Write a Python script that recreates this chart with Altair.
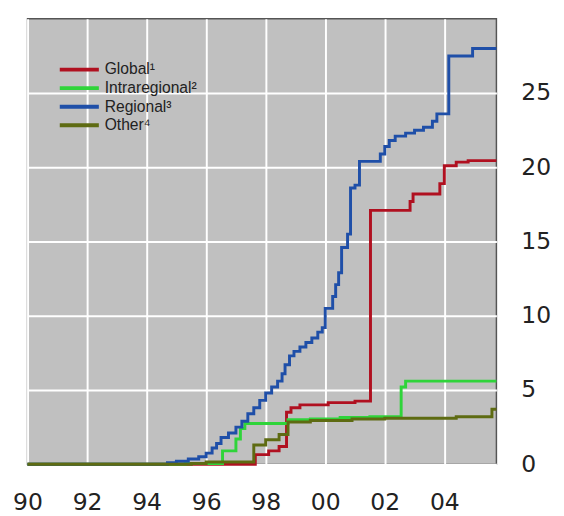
import altair as alt
import pandas as pd

series_names = ["Global¹", "Intraregional²", "Regional³", "Other⁴"]
series_colors = ["#b01020", "#2fd43a", "#1f4fa8", "#5e6b12"]

global_x = [1990.0, 1997.65, 1998.1, 1998.45, 1998.7, 1998.85, 1999.15, 2000.1, 2001.0,
            2001.52, 2002.85, 2002.95, 2003.85, 2004.0, 2004.4, 2004.8, 2005.75]
global_y = [0.0, 0.65, 0.9, 1.2, 3.5, 3.8, 4.0, 4.15, 4.25,
            17.1, 17.7, 18.2, 18.9, 20.1, 20.35, 20.45, 20.45]

intra_x = [1990.0, 1995.3, 1996.55, 1997.0, 1997.15, 1997.3, 1998.75, 1999.5, 2000.5,
           2001.5, 2002.55, 2002.7, 2005.75]
intra_y = [0.0, 0.05, 0.9, 1.7, 2.4, 2.75, 3.0, 3.05, 3.15,
           3.2, 5.2, 5.6, 5.6]

regional_x = [1990.0, 1994.7, 1995.0, 1995.4, 1995.75, 1996.0, 1996.2, 1996.35, 1996.5,
              1996.75, 1997.0, 1997.2, 1997.4, 1997.6, 1997.8, 1998.0, 1998.2, 1998.4,
              1998.55, 1998.65, 1998.8, 1998.95, 1999.15, 1999.35, 1999.55, 1999.75,
              1999.9, 2000.0, 2000.25, 2000.35, 2000.45, 2000.55, 2000.75, 2000.85,
              2001.0, 2001.15, 2001.85, 2002.0, 2002.15, 2002.35, 2002.7, 2003.0,
              2003.3, 2003.6, 2003.75, 2004.15, 2004.95, 2005.75]
regional_y = [0.0, 0.1, 0.2, 0.35, 0.5, 0.75, 1.1, 1.4, 1.8,
              2.1, 2.5, 2.9, 3.4, 3.8, 4.3, 4.8, 5.2, 5.6,
              6.1, 6.7, 7.3, 7.6, 7.9, 8.2, 8.5, 8.9,
              9.2, 10.5, 11.3, 12.1, 12.9, 14.6, 15.5, 18.6,
              18.8, 20.4, 20.9, 21.4, 21.8, 22.1, 22.3, 22.5,
              22.7, 23.1, 23.6, 27.5, 28.0, 28.0]

other_x = [1990.0, 1995.5, 1996.0, 1997.6, 1998.0, 1998.45, 1998.75, 1999.5, 2000.9,
           2002.0, 2004.4, 2005.6, 2005.75]
other_y = [0.0, 0.05, 0.15, 1.3, 1.65, 2.0, 2.85, 2.95, 3.05,
           3.1, 3.2, 3.7, 3.7]

x_ticks = [1990, 1992, 1994, 1996, 1998, 2000, 2002, 2004]
y_ticks = [0, 5, 10, 15, 20, 25]

frames = []
for i, (name, xs, ys) in enumerate(zip(series_names,
                                       [global_x, intra_x, regional_x, other_x],
                                       [global_y, intra_y, regional_y, other_y])):
    frames.append(pd.DataFrame({"year": xs, "value": ys, "series": name, "order": i}))
df = pd.concat(frames, ignore_index=True)

chart = alt.Chart(df).mark_line(interpolate="step-after", strokeWidth=3).encode(
    x=alt.X("year:Q",
            scale=alt.Scale(domain=[1990, 2005.75], nice=False, zero=False),
            axis=alt.Axis(values=x_ticks, title=None, ticks=False, domain=False,
                          labelExpr="format(datum.value % 100, '02d')",
                          labelFont="DejaVu Sans", labelFontSize=24, labelColor="#222",
                          labelPadding=27, gridColor="white", gridWidth=2, gridOpacity=1,
                          labelFlush=False)),
    y=alt.Y("value:Q",
            scale=alt.Scale(domain=[0, 30], nice=False),
            axis=alt.Axis(values=y_ticks, orient="right", title=None, ticks=False,
                          domain=False, labelFont="DejaVu Sans", labelFontSize=24,
                          labelColor="#222", labelPadding=25, gridColor="white",
                          gridWidth=2, gridOpacity=1)),
    color=alt.Color("series:N",
                    scale=alt.Scale(domain=series_names, range=series_colors),
                    legend=alt.Legend(orient="none", legendX=43, legendY=42, title=None,
                                      padding=0,
                                      symbolType="M-2.5,0H2.5", symbolSize=256,
                                      symbolStrokeWidth=4, labelFont="Liberation Sans",
                                      labelFontSize=16, labelColor="#222",
                                      labelOffset=16, rowPadding=1)),
    detail="series:N",
    order="order:Q",
).properties(
    width=480, height=456,
    background="white",
    padding={"left": 4, "top": 5, "right": 5, "bottom": 0},
).configure_view(
    fill="#c0c0c0", stroke="#555555", strokeWidth=1.5
)

chart.save("out.html", embed_options={"renderer": "svg", "actions": False})
